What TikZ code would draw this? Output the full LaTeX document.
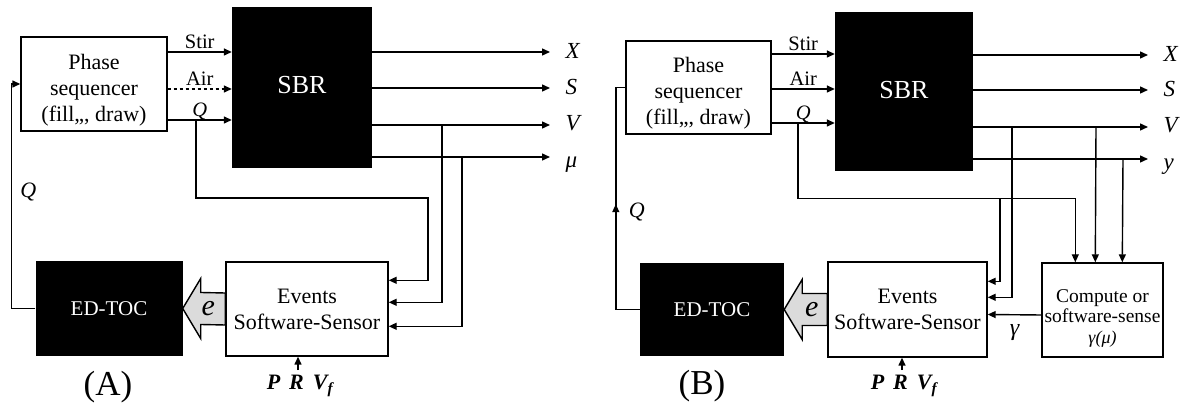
\documentclass[tikz,border=0pt]{standalone}
\usepackage{fontspec}
\setmainfont{Liberation Serif}
\usetikzlibrary{arrows.meta,calc,positioning,decorations.markings}

\begin{document}
\begin{tikzpicture}[x=1pt,y=-1pt,>={Triangle[length=8pt,width=7pt]},
 wbox/.style={draw,line width=1.4pt,fill=white,inner sep=0pt,align=center,font=\fontsize{22}{26}\selectfont},
 bbox/.style={fill=black,text=white,inner sep=0pt,align=center},
 sig/.style={line width=1.4pt,->},
 inlbl/.style={above,inner sep=3pt,text depth=0pt,font=\fontsize{20.5}{24}\selectfont},
 outlbl/.style={anchor=base west,xshift=15pt,inner sep=0pt,font=\fontsize{23}{27}\selectfont\itshape},
 qlbl/.style={font=\fontsize{22}{26}\selectfont\itshape},
 gamlbl/.style={inner sep=1pt,font=\fontsize{24}{28}\selectfont\itshape},
 elbl/.style={font=\fontsize{30}{34}\selectfont\itshape},
 prlbl/.style={inner sep=2pt,font=\fontsize{22}{26}\selectfont\bfseries\itshape},
 panlbl/.style={font=\fontsize{35}{40}\selectfont},
 bigarr/.style={draw,line width=1.4pt,fill=gray!28,line join=miter},
 seqtxt/.style={align=center,yshift=-6pt,font=\fontsize{22}{26}\selectfont},
 cmptxt/.style={align=center,yshift=-8pt,font=\fontsize{19.5}{20.5}\selectfont}]
\useasboundingbox (0,0) rectangle (1187,411);
\node[wbox,minimum width=146pt,minimum height=94pt,label={[seqtxt]center:{Phase\\sequencer\\(fill,,, draw)}}] (seqA) at (94,84) {};
\node[bbox,minimum width=140pt,minimum height=161pt,font=\fontsize{26}{30}\selectfont] (sbrA) at (302,87.5) {\raisebox{5pt}{SBR}};
\node[bbox,minimum width=147pt,minimum height=95pt,font=\fontsize{21}{25}\selectfont] (edA) at (109,308.5) {ED-TOC};
\node[wbox,minimum width=162pt,minimum height=94pt] (evA) at (307,309) {Events\\Software-Sensor};
\foreach \yy/\lab/\sty in {52/Stir/solid,89/Air/dashed,120/{\textit{Q}}/solid}{
 \coordinate (iA\yy) at (0,\yy);
 \draw[sig,\sty] (seqA.east |- iA\yy) -- (sbrA.west |- iA\yy) node[midway,inlbl]{\lab};
}
\foreach \yy/\lab/\dy in {52/X/7,88/S/7,125/V/6,157/μ/11}{
 \coordinate (oA\yy) at (550,\yy);
 \draw[sig] (sbrA.east |- oA\yy) -- (oA\yy) node[outlbl,yshift=-\dy pt]{\lab};
}
\draw[sig] (196,120) |- (428,198) |- ($(evA.north east)+(0,19)$);
\draw[sig] (442,125) |- ($(evA.north east)+(0,41)$);
\draw[sig] (462,157) |- ($(evA.north east)+(0,65)$);
\draw[sig] (edA.west) -- ++(-24,0) |- node[pos=0.26,right=5pt,qlbl]{Q} (seqA.west);
\draw[bigarr] (edA.east) -- ++(18,-30) -- ++(0,14) -- ($(evA.west)+(0,-16)$) -- ($(evA.west)+(0,16)$) -- ($(edA.east)+(18,16)$) -- ++(0,14) -- cycle;
\node[elbl] (eA) at ($(edA.east)!0.6!(evA.west)$) {e};
\node[prlbl] (prA) at (300,386) {P\hspace{9pt}R\hspace{9pt}V\textsubscript{f}};
\coordinate (prAtop) at ([shift={(-2,-3)}]prA.north);
\draw[sig] (prAtop) -- (prAtop |- evA.south);
\node[panlbl] (panA) at (108,387) {(A)};

\node[wbox,minimum width=145pt,minimum height=93pt,label={[seqtxt]center:{Phase\\sequencer\\(fill,,, draw)}}] (seqB) at (698.5,87.5) {};
\node[bbox,minimum width=138pt,minimum height=159pt,font=\fontsize{26}{30}\selectfont] (sbrB) at (904,91.5) {\raisebox{4pt}{SBR}};
\node[bbox,minimum width=144pt,minimum height=93pt,font=\fontsize{21}{25}\selectfont] (edB) at (712,309.5) {ED-TOC};
\node[wbox,minimum width=159pt,minimum height=95pt] (evB) at (907.5,309.5) {Events\\Software-Sensor};
\node[wbox,minimum width=121pt,minimum height=94pt,label={[cmptxt]center:{Compute or\\software-sense\\{\fontsize{18}{20}\selectfont\textit{γ(μ)}}}}] (cmpB) at (1102.5,310) {};
\foreach \yy/\lab in {54/Stir,89/Air,123/{\textit{Q}}}{
 \coordinate (iB\yy) at (0,\yy);
 \draw[sig] (seqB.east |- iB\yy) -- (sbrB.west |- iB\yy) node[midway,inlbl]{\lab};
}
\foreach \yy/\lab/\dy in {55/X/7,90/S/7,127/V/6,159/y/11}{
 \coordinate (oB\yy) at (1148,\yy);
 \draw[sig] (sbrB.east |- oB\yy) -- (oB\yy) node[outlbl,yshift=-\dy pt]{\lab};
}
\draw[sig] (798,123) |- ($(cmpB.north west)+(34,-64)$) -- ($(cmpB.north west)+(34,0)$);
\draw[sig] (1000,199) |- ($(evB.north east)+(0,20)$);
\draw[sig] (1012,127) |- ($(evB.north east)+(0,36)$);
\draw[sig] (1096,127) -- ($(cmpB.north west)+(54,0)$);
\draw[sig] (1123,159) -- ($(cmpB.north west)+(81,0)$);
\draw[sig] ($(cmpB.west)+(0,5)$) -- ($(evB.east)+(0,5)$) node[midway,below=8pt,gamlbl]{γ};
\draw[line width=1.4pt,postaction={decorate},decoration={markings,mark=at position 0.506 with {\arrow{>}}}] (edB.west) -- ++(-24,0) |- node[pos=0.22,right=9pt,qlbl]{Q} (seqB.west);
\draw[bigarr] (edB.east) -- ++(18,-30) -- ++(0,14) -- ($(evB.west)+(0,-16)$) -- ($(evB.west)+(0,16)$) -- ($(edB.east)+(18,16)$) -- ++(0,14) -- cycle;
\node[elbl] (eB) at ($(edB.east)!0.64!(evB.west)$) {e};
\node[prlbl] (prB) at (904,386) {P\hspace{9pt}R\hspace{9pt}V\textsubscript{f}};
\coordinate (prBtop) at ([shift={(-2,-3)}]prB.north);
\draw[sig] (prBtop) -- (prBtop |- evB.south);
\node[panlbl] (panB) at (702,386) {(B)};
\end{tikzpicture}
\end{document}
